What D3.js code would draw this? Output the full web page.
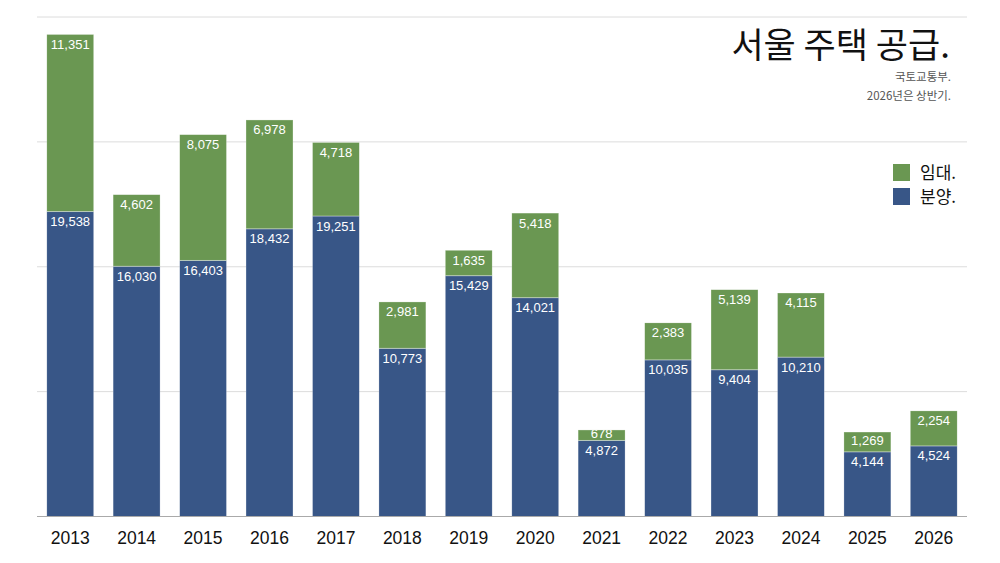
<!DOCTYPE html>
<html>
<head>
<meta charset="utf-8">
<script src="https://cdn.jsdelivr.net/npm/d3@7"></script>
<style>
  html, body { margin: 0; padding: 0; background: #fff; }
  svg { display: block; font-family: "Liberation Sans", "Noto Sans CJK KR", sans-serif; }
</style>
</head>
<body>
<svg id="chart" width="1000" height="563"></svg>
<script>
// 데이터
const years = ['2013','2014','2015','2016','2017','2018','2019','2020','2021','2022','2023','2024','2025','2026'];
const sale = [19538, 16030, 16403, 18432, 19251, 10773, 15429, 14021, 4872, 10035, 9404, 10210, 4144, 4524];
const rent = [11351, 4602, 8075, 6978, 4718, 2981, 1635, 5418, 678, 2383, 5139, 4115, 1269, 2254];
const yTicks = [0, 8000, 16000, 24000, 32000];

const W = 1000, H = 563;
const X0 = 37, X1 = 967, Y0 = 516.5, Y1 = 17;
const BLUE = '#385687', GREEN = '#6a9752';

const svg = d3.select('#chart');

const x = d3.scaleBand().domain(years).range([X0, X1]).paddingInner(0.29).paddingOuter(0.145);
const y = d3.scaleLinear().domain([0, 32000]).range([Y0, Y1]);

// 격자선
svg.append('g').selectAll('line')
  .data(yTicks.filter(t => t > 0))
  .enter().append('line')
  .attr('x1', X0).attr('x2', X1)
  .attr('y1', d => y(d)).attr('y2', d => y(d))
  .attr('stroke', '#dcdcdc').attr('stroke-width', 1);

const rows = years.map((yr, i) => ({ year: yr, sale: sale[i], rent: rent[i] }));

// 막대별 클립
const defs = svg.append('defs');
rows.forEach((d, i) => {
  defs.append('clipPath').attr('id', 'clip-' + i)
    .append('rect')
    .attr('x', x(d.year)).attr('width', x.bandwidth())
    .attr('y', y(d.sale + d.rent)).attr('height', Y0 - y(d.sale + d.rent));
});

const gBars = svg.append('g');
rows.forEach((d, i) => {
  const g = gBars.append('g').attr('clip-path', `url(#clip-${i})`);
  const segs = [
    { v: d.sale, lo: 0, hi: d.sale, color: BLUE },
    { v: d.rent, lo: d.sale, hi: d.sale + d.rent, color: GREEN }
  ];
  segs.forEach(s => {
    g.append('rect')
      .attr('x', x(d.year)).attr('width', x.bandwidth())
      .attr('y', y(s.hi)).attr('height', y(s.lo) - y(s.hi))
      .attr('fill', s.color)
      .attr('stroke', 'rgba(255,255,255,0.35)').attr('stroke-width', 1);
  });
  segs.forEach(s => {
    const top = y(s.hi), bot = y(s.lo);
    const ty = Math.min(top + 14.5, (top + bot) / 2 + 3);
    g.append('text')
      .attr('x', x(d.year) + x.bandwidth() / 2)
      .attr('y', ty)
      .attr('text-anchor', 'middle')
      .attr('fill', '#fff')
      .attr('font-size', 13)
      .text(d3.format(',')(s.v));
  });
});

// 기준선
svg.append('line')
  .attr('x1', X0).attr('x2', X1)
  .attr('y1', Y0).attr('y2', Y0)
  .attr('stroke', '#aaa').attr('stroke-width', 1.2);

// x축 라벨
const xAxis = svg.append('g')
  .attr('transform', `translate(0,${Y0})`)
  .call(d3.axisBottom(x).tickSize(0).tickPadding(15));
xAxis.select('.domain').remove();
xAxis.selectAll('text')
  .attr('font-size', 17.5).attr('fill', '#111')
  .attr('font-family', '"Liberation Sans", sans-serif');

// 제목
svg.append('text')
  .attr('x', 950).attr('y', 58)
  .attr('text-anchor', 'end')
  .attr('font-size', 35).attr('fill', '#111')
  .attr('font-family', '"Noto Sans CJK KR", sans-serif')
  .text('서울 주택 공급.');

const subs = ['국토교통부.', '2026년은 상반기.'];
svg.append('g').selectAll('text')
  .data(subs).enter().append('text')
  .attr('x', 951).attr('y', (d, i) => 81 + i * 18.5)
  .attr('text-anchor', 'end')
  .attr('font-size', 11.5).attr('fill', '#555')
  .attr('font-family', '"Noto Sans CJK KR", sans-serif')
  .text(d => d);

// 범례
const legend = [{ label: '임대.', color: GREEN }, { label: '분양.', color: BLUE }];
const lg = svg.append('g').selectAll('g')
  .data(legend).enter().append('g')
  .attr('transform', (d, i) => `translate(893,${164 + i * 24})`);
lg.append('rect').attr('width', 17).attr('height', 17).attr('fill', d => d.color);
lg.append('text')
  .attr('x', 27).attr('y', 14.5)
  .attr('font-size', 17).attr('fill', '#111')
  .attr('font-family', '"Noto Sans CJK KR", sans-serif')
  .text(d => d.label);
</script>
</body>
</html>
